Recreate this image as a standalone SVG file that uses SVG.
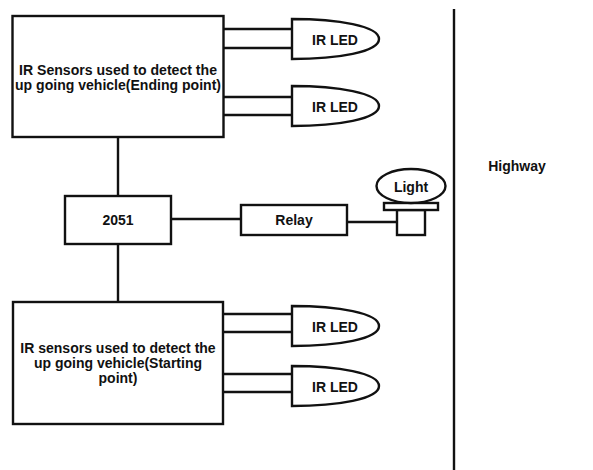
<svg xmlns="http://www.w3.org/2000/svg" width="593" height="470" viewBox="0 0 593 470">
<style>
.s{fill:#fff;stroke:#111;stroke-width:2.4}
.c{fill:none;stroke:#111;stroke-width:2.4}
text{font-family:"Liberation Sans",Arial,sans-serif;font-size:14px;font-weight:bold;fill:#111;text-anchor:middle}
</style>
<defs>
<path id="led" d="M0 0C46 0 87 7 87 20C87 33 46 40 0 40Z"/>
</defs>
<rect width="593" height="470" fill="#fff"/>
<g id="connectors">
<path class="c" d="M224 29H292M224 48H292M224 97H292M224 115H292M224 314H292M224 332H292M224 374H292M224 392H292"/>
<path class="c" d="M118 137V196M118 244V302M171 219H241M347 222H397"/>
<path class="c" d="M454 9V470"/>
</g>
<g id="sensor-top"><rect class="s" x="12.500" y="16" width="211" height="121"/>
<text x="118" y="74.500" textLength="198" lengthAdjust="spacingAndGlyphs">IR Sensors used to detect the</text><text x="118" y="89.500" textLength="206" lengthAdjust="spacingAndGlyphs">up going vehicle(Ending point)</text></g>
<g id="led-1"><use href="#led" class="s" x="292" y="19"/><text x="335" y="44.500">IR LED</text></g>
<g id="led-2"><use href="#led" class="s" x="292" y="86"/><text x="335" y="111.500">IR LED</text></g>
<g id="mcu"><rect class="s" x="65" y="196" width="106" height="48"/><text x="118" y="225">2051</text></g>
<g id="relay"><rect class="s" x="241" y="205" width="106" height="30"/><text x="294" y="225">Relay</text></g>
<g id="light">
<rect class="s" x="397" y="210" width="28" height="25"/>
<rect class="s" x="384" y="203" width="54" height="7"/>
<ellipse class="s" cx="411" cy="186" rx="34.500" ry="17"/>
<text x="411" y="192">Light</text></g>
<g id="sensor-bottom"><rect class="s" x="13" y="302" width="210" height="122"/>
<text x="118" y="353">IR sensors used to detect the</text><text x="118" y="368">up going vehicle(Starting</text><text x="118" y="383">point)</text></g>
<g id="led-3"><use href="#led" class="s" x="292" y="306"/><text x="335" y="331.500">IR LED</text></g>
<g id="led-4"><use href="#led" class="s" x="292" y="366"/><text x="335" y="391.500">IR LED</text></g>
<g id="highway"><text x="517" y="170.500">Highway</text></g>
</svg>
